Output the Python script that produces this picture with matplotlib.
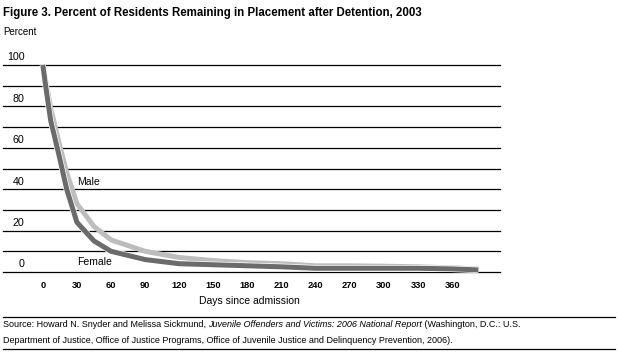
import matplotlib.pyplot as plt
import matplotlib.patheffects as pe

# days since admission and percent still in placement
days = [0, 3, 7, 14, 21, 30, 45, 60, 90, 120, 150, 180, 210, 240, 270, 300, 330, 360, 383]
female = [100, 88, 73, 57, 40, 24, 15, 10, 6, 4, 3.5, 3, 2.5, 1.8, 1.8, 1.8, 1.8, 1.5, 1]
male = [100, 91, 79, 63, 48, 33, 22, 15.5, 10, 7, 5.5, 4.5, 4, 3, 3, 2.8, 2.5, 2, 1.5]

x_ticks = [0, 30, 60, 90, 120, 150, 180, 210, 240, 270, 300, 330, 360]
y_labels = [0, 20, 40, 60, 80, 100]
grid_levels = list(range(0, 101, 10))

W, H = 618, 359
fig = plt.figure(figsize=(W / 100, H / 100), dpi=100)
ax = fig.add_axes([3 / W, (H - 272) / H, 497 / W, 207 / H])
ax.set_xlim(-35, 402)
ax.set_ylim(0, 100)
ax.axis('off')

body = ['Liberation Sans', 'DejaVu Sans']

for lv in grid_levels:
    ax.axhline(lv, color='black', lw=0.9, clip_on=False)

ax.plot(days, male, color='#bdbdbd', lw=3.6, clip_on=False, solid_capstyle='butt')
ax.plot(days, female, color='#6b6b6b', lw=3.6, clip_on=False, solid_capstyle='butt',
        path_effects=[pe.Stroke(linewidth=4.6, foreground='white'), pe.Normal()])

for v in y_labels:
    ax.text(-16, v + 1.3, str(v), ha='right', va='bottom', fontsize=7.7, family=body)

for d in x_ticks:
    ax.text(d, -6.3, str(d), ha='center', va='center', fontsize=6.7,
            fontweight='bold', family=body)

ax.text(30, 43.5, 'Male', ha='left', va='center', fontsize=7.5, family=body)
ax.text(30, 4.8, 'Female', ha='left', va='center', fontsize=7.5, family=body)

fig.text(249 / W, 1 - 301 / H, 'Days since admission', ha='center', va='center',
         fontsize=7.5, family=body)
fig.text(3 / W, 1 - 32 / H, 'Percent', ha='left', va='center', fontsize=7, family=body)
fig.text(3 / W, 1 - 13 / H, 'Figure 3. Percent of Residents Remaining in Placement after Detention, 2003',
         ha='left', va='center', fontsize=8.3, fontweight='bold',
         family=['Liberation Sans Narrow', 'Liberation Sans', 'DejaVu Sans'])

# source block with rules above and below
for yp in (317, 349):
    fig.add_artist(plt.Line2D([3 / W, 615 / W], [1 - yp / H, 1 - yp / H],
                              color='black', lw=0.9))

fs = 6.5
t1 = fig.text(3 / W, 1 - 329 / H, 'Source: Howard N. Snyder and Melissa Sickmund, ',
              ha='left', va='bottom', fontsize=fs, family=body)
t2 = ax.annotate('Juvenile Offenders and Victims: 2006 National Report', xy=(1, 0),
                 xycoords=t1, ha='left', va='bottom', fontsize=fs, style='italic',
                 family=body, annotation_clip=False)
ax.annotate(' (Washington, D.C.: U.S.', xy=(1, 0), xycoords=t2, ha='left', va='bottom',
            fontsize=fs, family=body, annotation_clip=False)
fig.text(3 / W, 1 - 345 / H,
         'Department of Justice, Office of Justice Programs, Office of Juvenile Justice and '
         'Delinquency Prevention, 2006).',
         ha='left', va='bottom', fontsize=fs, family=body)

fig.savefig('out.png', dpi=100)
